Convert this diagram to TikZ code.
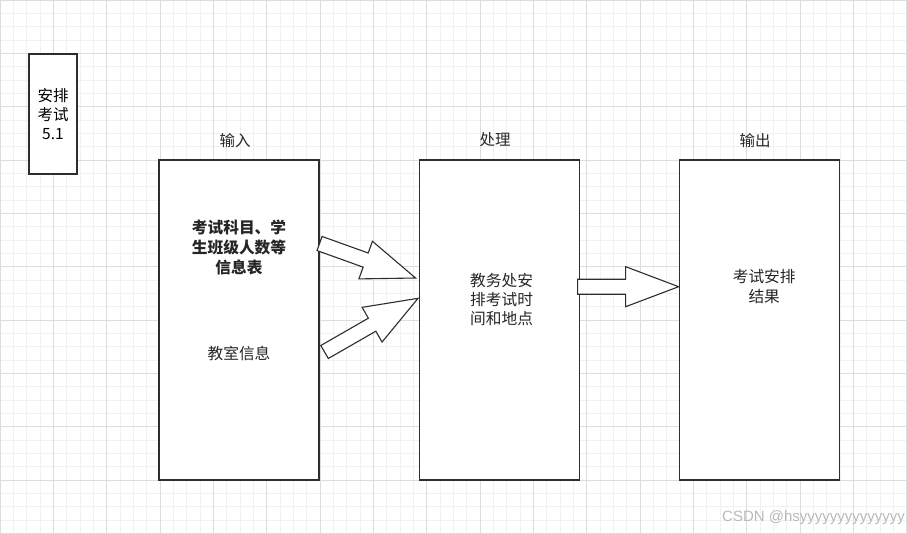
\documentclass[tikz,border=0pt]{standalone}
\usepackage{fontspec}
\setmainfont{Noto Sans CJK SC}
\newfontfamily\markfont{Liberation Sans}
\usetikzlibrary{positioning, calc}
\definecolor{gridminor}{RGB}{241,241,241}
\definecolor{gridmajor}{RGB}{221,221,221}
\definecolor{edgegray}{RGB}{45,45,45}
\definecolor{markgray}{RGB}{185,185,185}
\tikzset{
    stagebox/.style={rectangle, draw=edgegray, fill=white, line width=1.1pt, minimum width=160pt, minimum height=320pt, inner sep=0pt},
    tagbox/.style={rectangle, draw=edgegray, fill=white, line width=1.1pt, minimum width=48pt, minimum height=120pt, align=center, font=\fontsize{15.5}{19}\selectfont, inner sep=0pt},
    boxtext/.style={align=center, inner sep=0pt, text=black!85, font=\fontsize{15.7}{20}\selectfont},
    stagetitle/.style={inner sep=0pt, text=black!85, font=\fontsize{15.5}{19}\selectfont},
    fatarrow/.style={draw=edgegray, fill=white, line width=1.1pt, line join=miter,
        to path={($(\tikztostart)!7.5pt!90:(\tikztotarget)$)
            -- ($(\tikztotarget)!53pt!(\tikztostart)!7.5pt!90:(\tikztotarget)$)
            -- ($(\tikztotarget)!53pt!(\tikztostart)!20pt!90:(\tikztotarget)$)
            -- (\tikztotarget)
            -- ($(\tikztotarget)!53pt!(\tikztostart)!20pt!-90:(\tikztotarget)$)
            -- ($(\tikztotarget)!53pt!(\tikztostart)!7.5pt!-90:(\tikztotarget)$)
            -- ($(\tikztostart)!7.5pt!-90:(\tikztotarget)$) -- cycle}}
}

\begin{document}
\begin{tikzpicture}[x=1pt, y=-1pt]
\useasboundingbox (0,0) rectangle (907,533);

% background grid
\foreach \i in {0,...,68} \draw[gridminor, line width=0.8pt] ({\i*40/3},0) -- ({\i*40/3},533);
\foreach \j in {0,...,40} \draw[gridminor, line width=0.8pt] (0,{\j*40/3}) -- (907,{\j*40/3});
\foreach \i in {0,...,17} \draw[gridmajor, line width=0.9pt] ({\i*160/3},0) -- ({\i*160/3},533);
\foreach \j in {0,...,10} \draw[gridmajor, line width=0.9pt] (0,{\j*160/3}) -- (907,{\j*160/3});

\node[tagbox] (tag) at (53,114) {安排\\考试\\5.1};

\node[stagebox] (inbox) at (239,320) {};
\node[stagebox, right=99pt of inbox] (proc) {};
\node[stagebox, right=99pt of proc] (outbox) {};

\node[stagetitle, above=12pt of inbox, xshift=-4pt] (intitle) {输入};
\node[stagetitle, above=12pt of proc, xshift=-4pt] (proctitle) {处理};
\node[stagetitle, above=12pt of outbox, xshift=-4pt] (outtitle) {输出};

\node[boxtext, font=\fontsize{15.7}{20}\selectfont\bfseries] (subjects) at ([yshift=73pt]inbox.center) {考试科目、学\\生班级人数等\\信息表};
\node[boxtext] (rooms) at ([yshift=-33pt]inbox.center) {教室信息};
\node[boxtext, font=\fontsize{15.7}{19}\selectfont] (arrange) at ([xshift=2.5pt, yshift=20pt]proc.center) {教务处安\\排考试时\\间和地点};
\node[boxtext] (result) at ([xshift=5pt, yshift=33.5pt]outbox.center) {考试安排\\结果};

\coordinate (a1s) at ([yshift=76.5pt]inbox.east);
\coordinate (a1e) at ([xshift=-3pt, yshift=42pt]proc.west);
\coordinate (a2s) at ([xshift=5pt, yshift=-32pt]inbox.east);
\coordinate (a2e) at ([xshift=-0.5pt, yshift=21.7pt]proc.west);
\coordinate (a3s) at ([xshift=-2pt, yshift=33.3pt]proc.east);
\coordinate (a3e) at ([yshift=33.3pt]outbox.west);

\draw[fatarrow] (a1s) to (a1e);
\draw[fatarrow] (a2s) to (a2e);
\draw[fatarrow] (a3s) to (a3e);

\node[anchor=west, inner sep=0pt, text=markgray, font=\markfont\fontsize{15}{17}\selectfont] (mark) at (722,518) {CSDN @hsyyyyyyyyyyyyyy};

\end{tikzpicture}
\end{document}
